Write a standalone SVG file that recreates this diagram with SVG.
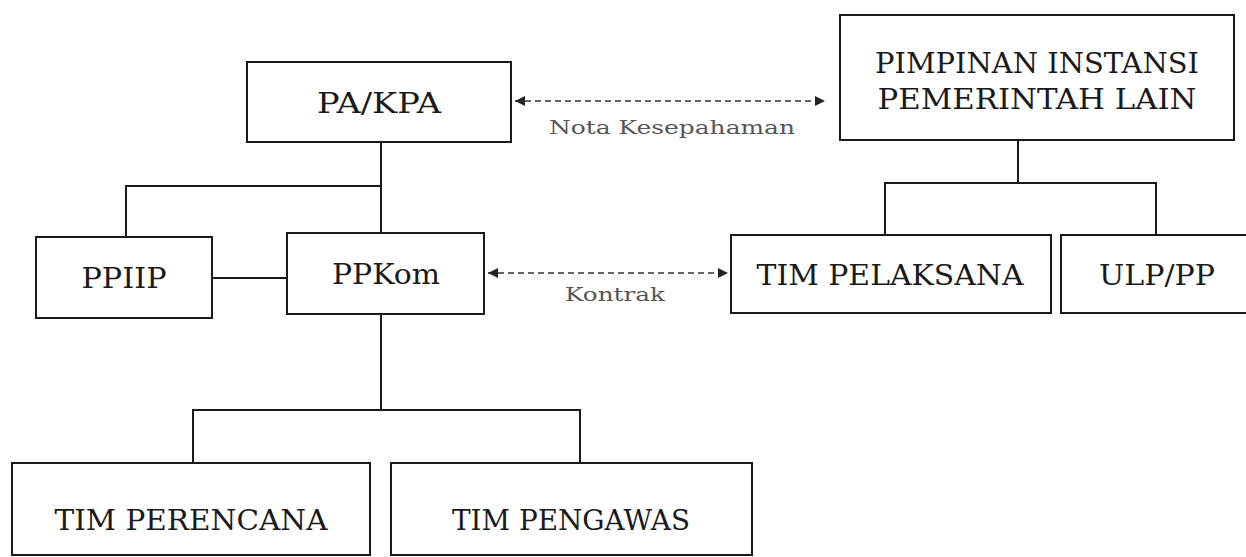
<svg xmlns="http://www.w3.org/2000/svg" width="1246" height="557" viewBox="0 0 1246 557">
<style>
.box{fill:#fff;stroke:#1a1a1a;stroke-width:2}
.t{font-family:"DejaVu Serif","Liberation Serif",serif;font-size:27px;fill:#1a1a1a;text-anchor:middle}
.lbl{font-family:"DejaVu Serif","Liberation Serif",serif;font-size:19px;fill:#555;text-anchor:middle}
.ln{stroke:#1a1a1a;stroke-width:2;fill:none}
.da{stroke:#333;stroke-width:1.6;fill:none;stroke-dasharray:6 4}
</style>
<defs>
<marker id="ah" viewBox="0 0 10 10" refX="10" refY="5" markerWidth="10" markerHeight="10" markerUnits="userSpaceOnUse" orient="auto-start-reverse">
<path d="M0,0 L10,5 L0,10 Z" fill="#222"/>
</marker>
</defs>
<rect width="1246" height="557" fill="#fff"/>
<g id="connectors">
<path class="ln" d="M381,142 V233"/>
<path class="ln" d="M126,237 V186 H381"/>
<path class="ln" d="M212,278 H287"/>
<path class="ln" d="M381,314 V410"/>
<path class="ln" d="M193,463 V410 H580 V463"/>
<path class="ln" d="M1018,140 V183"/>
<path class="ln" d="M885,235 V183 H1156 V235"/>
<path class="da" d="M515,101 H825" marker-start="url(#ah)" marker-end="url(#ah)"/>
<path class="da" d="M488,273 H728" marker-start="url(#ah)" marker-end="url(#ah)"/>
<text class="lbl" x="672" y="134" textLength="246" lengthAdjust="spacingAndGlyphs">Nota Kesepahaman</text>
<text class="lbl" x="615" y="301" textLength="100" lengthAdjust="spacingAndGlyphs">Kontrak</text>
</g>
<g id="pakpa">
<rect class="box" x="247" y="62" width="264" height="80"/>
<text class="t" x="379" y="113" textLength="124" lengthAdjust="spacingAndGlyphs">PA/KPA</text>
</g>
<g id="pimpinan">
<rect class="box" x="840" y="15" width="394" height="125"/>
<text class="t" x="1037" y="73" textLength="324" lengthAdjust="spacingAndGlyphs">PIMPINAN INSTANSI</text>
<text class="t" x="1037" y="109" textLength="319" lengthAdjust="spacingAndGlyphs">PEMERINTAH LAIN</text>
</g>
<g id="pphp">
<rect class="box" x="36" y="237" width="176" height="81"/>
<text class="t" x="124" y="288" textLength="85" lengthAdjust="spacingAndGlyphs">PPIIP</text>
</g>
<g id="ppkom">
<rect class="box" x="287" y="233" width="197" height="81"/>
<text class="t" x="386" y="284" textLength="108" lengthAdjust="spacingAndGlyphs">PPKom</text>
</g>
<g id="timpelaksana">
<rect class="box" x="731" y="235" width="320" height="78"/>
<text class="t" x="890" y="285" textLength="267" lengthAdjust="spacingAndGlyphs">TIM PELAKSANA</text>
</g>
<g id="ulppp">
<rect class="box" x="1061" y="235" width="200" height="78"/>
<text class="t" x="1157" y="285" textLength="116" lengthAdjust="spacingAndGlyphs">ULP/PP</text>
</g>
<g id="timperencana">
<rect class="box" x="12" y="463" width="358" height="92"/>
<text class="t" x="191" y="530" textLength="273" lengthAdjust="spacingAndGlyphs">TIM PERENCANA</text>
</g>
<g id="timpengawas">
<rect class="box" x="391" y="463" width="361" height="92"/>
<text class="t" x="571" y="530" textLength="238" lengthAdjust="spacingAndGlyphs">TIM PENGAWAS</text>
</g>
</svg>
